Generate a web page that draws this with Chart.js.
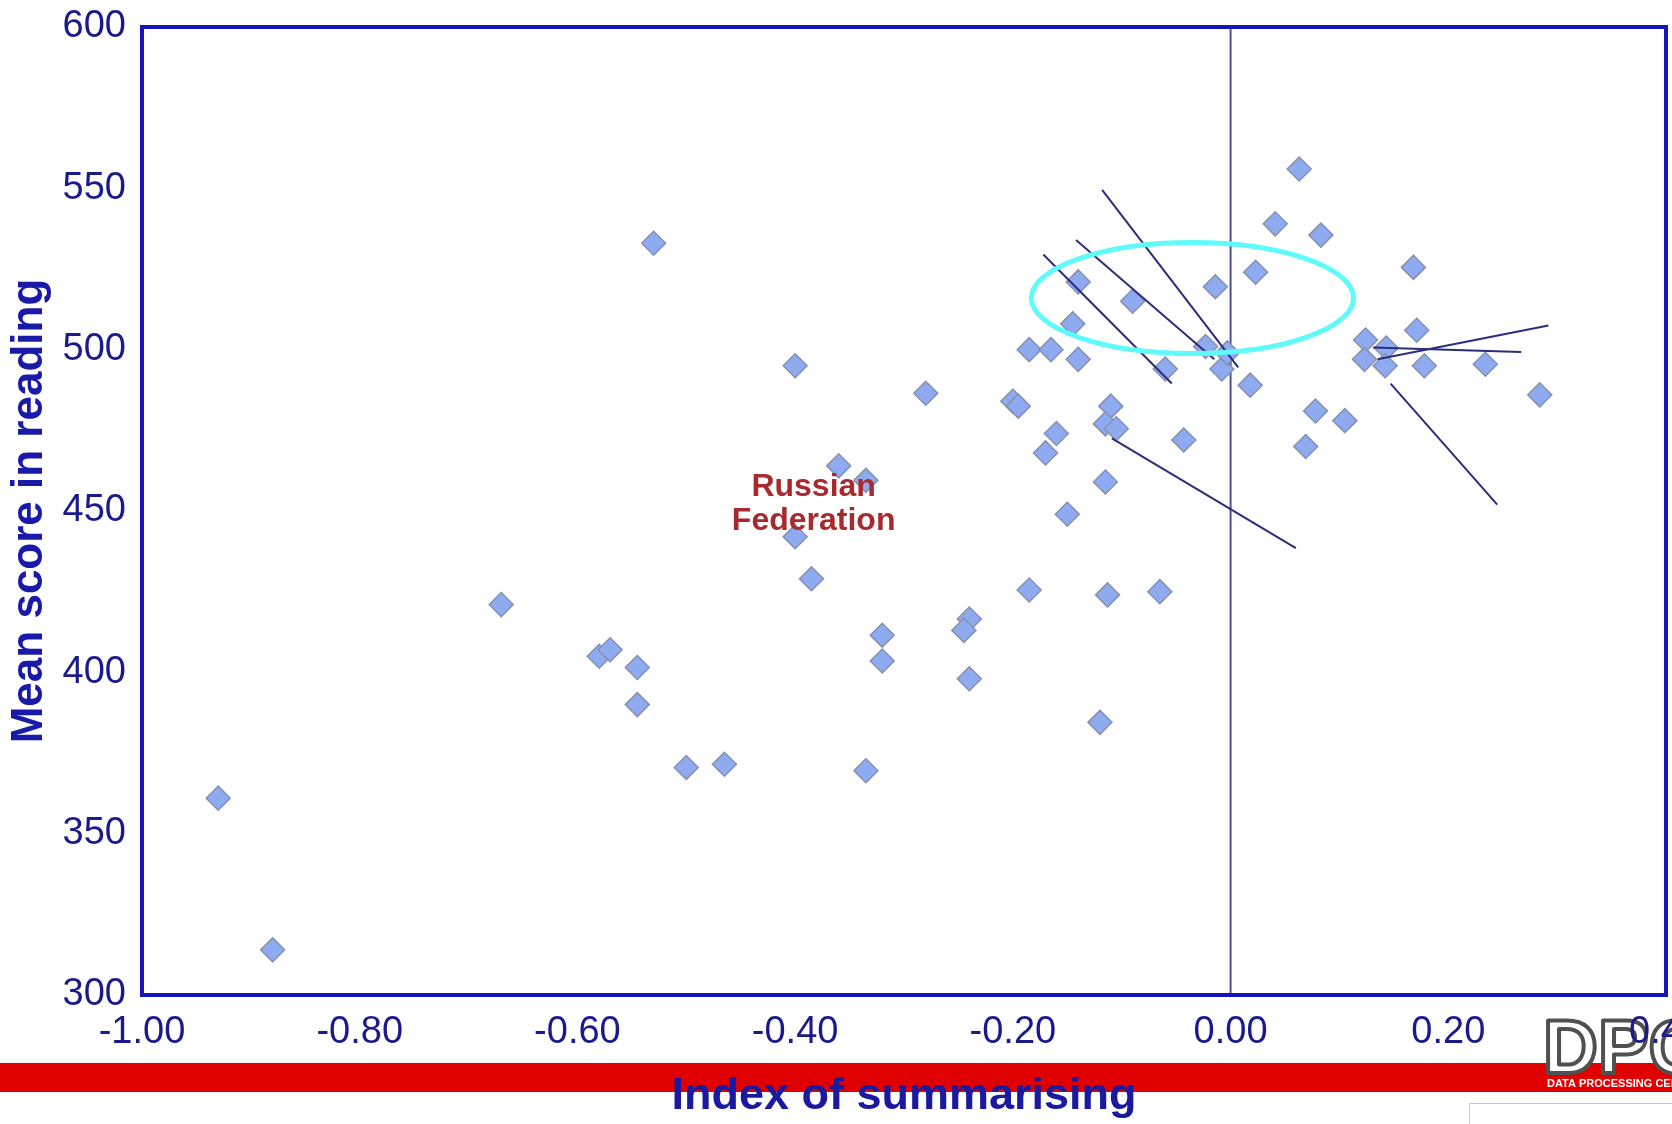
<!DOCTYPE html>
<html>
<head>
<meta charset="utf-8">
<script src="https://cdn.jsdelivr.net/npm/chart.js@4.4.1/dist/chart.umd.min.js"></script>
<style>
    html, body { margin: 0; padding: 0; background: #ffffff; overflow: hidden; }
    canvas { display: block; }
</style>
</head>
<body>
<canvas id="myChart" width="1672" height="1124"></canvas>
<script>
// Index of summarising (x) / mean score in reading (y), one per country
var summarising = [-0.93, -0.88, -0.67, -0.53, -0.58, -0.57, -0.545, -0.545, -0.50, -0.465,
    -0.40, -0.36, -0.335, -0.40, -0.385, -0.335, -0.32, -0.32, -0.28, -0.24,
    -0.245, -0.24, -0.20, -0.195, -0.185, -0.165, -0.185, -0.17, -0.16, -0.15,
    -0.145, -0.14, -0.14, -0.12, -0.113, -0.115, -0.11, -0.115, -0.105, -0.09,
    -0.065, -0.06, -0.043, -0.023, -0.014, -0.008, -0.003, 0.018, 0.023, 0.041,
    0.063, 0.083, 0.069, 0.078, 0.105, 0.124, 0.123, 0.143, 0.142, 0.168,
    0.171, 0.178, 0.234, 0.284];
var reading = [361, 314, 421, 533, 405, 407, 401.5, 390, 370.5, 371.5,
    495, 464, 459.5, 442, 429, 369.5, 411.5, 403.5, 486.5, 416.5,
    413, 398, 484, 482.5, 500, 500, 425.5, 468, 474, 449,
    508, 497, 521, 384.5, 424, 459, 482.5, 477, 475.5, 515,
    425, 494, 472, 501, 519.5, 494, 499, 489, 524, 539,
    556, 535.5, 470, 481, 478, 503, 497, 500.5, 495, 525.5,
    506, 495, 495.5, 486];

// hand drawn trend segments
var segStartX = [-0.118, -0.142, -0.172, -0.109, 0.147, 0.131, 0.135];
var segStartY = [549.5, 534, 529.5, 472.5, 489.5, 500.7, 497];
var segEndX = [0.007, -0.015, -0.054, 0.060, 0.245, 0.267, 0.292];
var segEndY = [494.5, 497, 489.5, 438.5, 452, 499.3, 507.5];

var xTicks = [-1.0, -0.8, -0.6, -0.4, -0.2, 0.0, 0.2, 0.4];
var yTicks = [300, 350, 400, 450, 500, 550, 600];

// highlighted group and labelled country
var highlightCenter = [-0.035, 516];
var highlightRadius = [0.148, 17.2];
var labelPos = [-0.383, 452];
var labelLines = ['Russian', 'Federation'];

var navy = '#1a1a8c';

var points = summarising.map(function(v, i) {
    return { x: v, y: reading[i] };
});

var datasets = [{
    type: 'scatter',
    data: points,
    pointStyle: 'rectRot',
    pointRadius: 12,
    backgroundColor: '#8eaaf0',
    borderColor: '#8790ae',
    borderWidth: 1.5,
    order: 1
}, {
    type: 'line',
    data: [{ x: 0, y: yTicks[0] }, { x: 0, y: yTicks[yTicks.length - 1] }],
    borderColor: '#4e4e92',
    borderWidth: 2,
    pointRadius: 0,
    order: 2
}];

segStartX.forEach(function(x0, i) {
    datasets.push({
        type: 'line',
        data: [{ x: x0, y: segStartY[i] }, { x: segEndX[i], y: segEndY[i] }],
        borderColor: '#2c2c7c',
        borderWidth: 2,
        pointRadius: 0,
        order: 0
    });
});

function noPadding(s) {
    s.paddingLeft = 0;
    s.paddingRight = 0;
    s.paddingTop = 0;
    s.paddingBottom = 0;
}

var decorations = {
    id: 'decorations',
    beforeDraw: function(chart) {
        var ctx = chart.ctx;
        ctx.save();
        ctx.fillStyle = '#ffffff';
        ctx.fillRect(0, 0, chart.width, chart.height);
        ctx.fillStyle = '#e00000';
        ctx.fillRect(0, 1063, chart.width, 29);
        // DPC logo (tick label goes over it)
        ctx.font = 'bold 76px "Liberation Sans", Arial, sans-serif';
        ctx.textAlign = 'left';
        ctx.textBaseline = 'alphabetic';
        ctx.lineJoin = 'round';
        ctx.fillStyle = '#ffffff';
        ctx.strokeStyle = '#505050';
        ctx.lineWidth = 4;
        ctx.fillText('DPC', 1543, 1073);
        ctx.strokeText('DPC', 1543, 1073);
        ctx.font = 'bold 11px "Liberation Sans", Arial, sans-serif';
        ctx.fillStyle = '#ffffff';
        ctx.fillText('DATA PROCESSING CENTER', 1547, 1087);
        ctx.strokeStyle = '#c8c8c8';
        ctx.lineWidth = 1;
        ctx.strokeRect(1469.5, 1103.5, 260, 40);
        ctx.restore();
    },
    afterDatasetsDraw: function(chart) {
        var ctx = chart.ctx;
        var xs = chart.scales.x, ys = chart.scales.y;
        var a = chart.chartArea;
        ctx.save();
        // ellipse
        var cx = xs.getPixelForValue(highlightCenter[0]);
        var cy = ys.getPixelForValue(highlightCenter[1]);
        var rx = Math.abs(xs.getPixelForValue(highlightCenter[0] + highlightRadius[0]) - cx);
        var ry = Math.abs(ys.getPixelForValue(highlightCenter[1] + highlightRadius[1]) - cy);
        ctx.beginPath();
        ctx.ellipse(cx, cy, rx, ry, 0, 0, Math.PI * 2);
        ctx.strokeStyle = '#5ffbfb';
        ctx.lineWidth = 5;
        ctx.stroke();
        // country label
        var lx = xs.getPixelForValue(labelPos[0]);
        var ly = ys.getPixelForValue(labelPos[1]);
        ctx.font = 'bold 32px "Liberation Sans", Arial, sans-serif';
        ctx.fillStyle = '#a62a2e';
        ctx.textAlign = 'center';
        ctx.textBaseline = 'middle';
        ctx.fillText(labelLines[0], lx, ly - 17);
        ctx.fillText(labelLines[1], lx, ly + 17);
        // plot frame
        ctx.strokeStyle = '#1515bb';
        ctx.lineWidth = 4;
        ctx.strokeRect(a.left, a.top, a.right - a.left, a.bottom - a.top);
        ctx.restore();
    }
};

var ctx = document.getElementById('myChart').getContext('2d');
var myChart = new Chart(ctx, {
    data: { datasets: datasets },
    plugins: [decorations],
    options: {
        responsive: false,
        devicePixelRatio: 1,
        animation: false,
        layout: { autoPadding: false, padding: { top: 27, right: 6, left: 0, bottom: 0 } },
        plugins: {
            legend: { display: false },
            tooltip: { enabled: false }
        },
        scales: {
            x: {
                type: 'linear',
                min: xTicks[0],
                max: xTicks[xTicks.length - 1],
                afterBuildTicks: function(s) {
                    s.ticks = xTicks.map(function(v) { return { value: v }; });
                },
                afterFit: function(s) {
                    s.height = 129;
                    noPadding(s);
                },
                grid: { display: false, drawTicks: false },
                border: { display: false },
                ticks: {
                    padding: 15,
                    color: navy,
                    maxRotation: 0,
                    autoSkip: false,
                    font: { family: '"Liberation Sans Narrow", "Liberation Sans", Arial, sans-serif', size: 38 },
                    callback: function(v) { return Number(v).toFixed(2); }
                },
                title: {
                    display: true,
                    text: 'Index of summarising',
                    color: '#1a1aa0',
                    padding: { top: 0, bottom: 0 },
                    font: { family: '"Liberation Sans", Arial, sans-serif', size: 45, weight: 'bold' }
                }
            },
            y: {
                type: 'linear',
                min: yTicks[0],
                max: yTicks[yTicks.length - 1],
                afterBuildTicks: function(s) {
                    s.ticks = yTicks.map(function(v) { return { value: v }; });
                },
                afterFit: function(s) {
                    s.width = 142;
                    noPadding(s);
                },
                grid: { display: false, drawTicks: false },
                border: { display: false },
                ticks: {
                    padding: 16,
                    color: navy,
                    font: { family: '"Liberation Sans Narrow", "Liberation Sans", Arial, sans-serif', size: 38 }
                },
                title: {
                    display: true,
                    text: 'Mean score in reading',
                    color: '#1a1aa8',
                    padding: { top: 3, bottom: 0 },
                    font: { family: '"Liberation Sans", Arial, sans-serif', size: 44, weight: 'bold' }
                }
            }
        }
    }
});
</script>
</body>
</html>
